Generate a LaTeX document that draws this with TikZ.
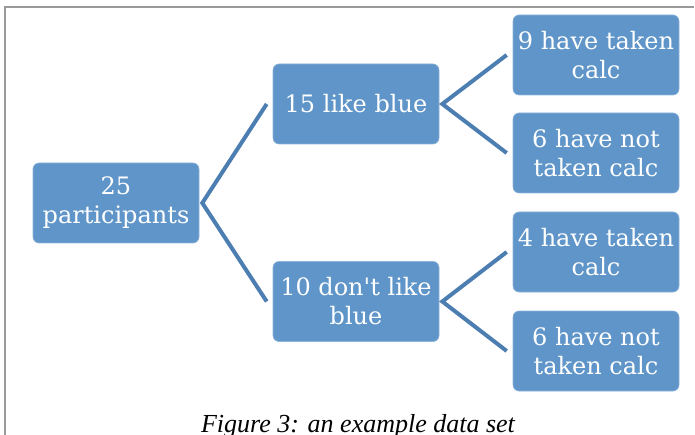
\documentclass[tikz,border=0pt]{standalone}
\usepackage{fontspec}
\setmainfont{DejaVu Serif}
\newfontfamily\capfont{Liberation Serif}
\usetikzlibrary{calc}
\definecolor{boxfill}{HTML}{5F95C8}
\definecolor{boxedge}{HTML}{8FB3DA}
\definecolor{linkcol}{HTML}{4D7EB2}
\definecolor{framecol}{HTML}{9A9A9A}
\tikzset{
  tbox/.style={rectangle, rounded corners=6pt, fill=boxfill, draw=boxedge, line width=0.6pt,
    minimum width=166pt, minimum height=80pt, inner sep=0pt, align=center, text=white,
    font=\fontsize{24}{29}\selectfont},
  link/.style={draw=linkcol, line width=4pt, line join=miter},
}
\begin{document}
\begin{tikzpicture}[x=1pt,y=-1pt]
\useasboundingbox (0,0) rectangle (695,435);
\draw[framecol, line width=2pt] (5,436) -- (5,7) -- (694,7);
\node[tbox] (root) at (116,203) {25\\participants};
\node[tbox] (a) at (356,104) {15 like blue};
\node[tbox] (b) at (356,301.5) {10 don\textquotesingle t like\\blue};
\node[tbox] (a1) at (596,55) {9 have taken\\calc};
\node[tbox] (a2) at (596,153) {6 have not\\taken calc};
\node[tbox] (b1) at (596,252) {4 have taken\\calc};
\node[tbox] (b2) at (596,351) {6 have not\\taken calc};
\draw[link] ([xshift=-6pt]a.west) -- ([xshift=3pt]root.east) -- ([xshift=-6pt]b.west);
\draw[link] ([xshift=-6pt]a1.west) -- ([xshift=3pt]a.east) -- ([xshift=-6pt]a2.west);
\draw[link] ([xshift=-6pt]b1.west) -- ([xshift=3pt]b.east) -- ([xshift=-6pt]b2.west);
\node[font=\capfont\itshape\fontsize{26}{30}\selectfont, anchor=base] (cap) at (358,432) {Figure 3: an example data set};
\end{tikzpicture}
\end{document}
